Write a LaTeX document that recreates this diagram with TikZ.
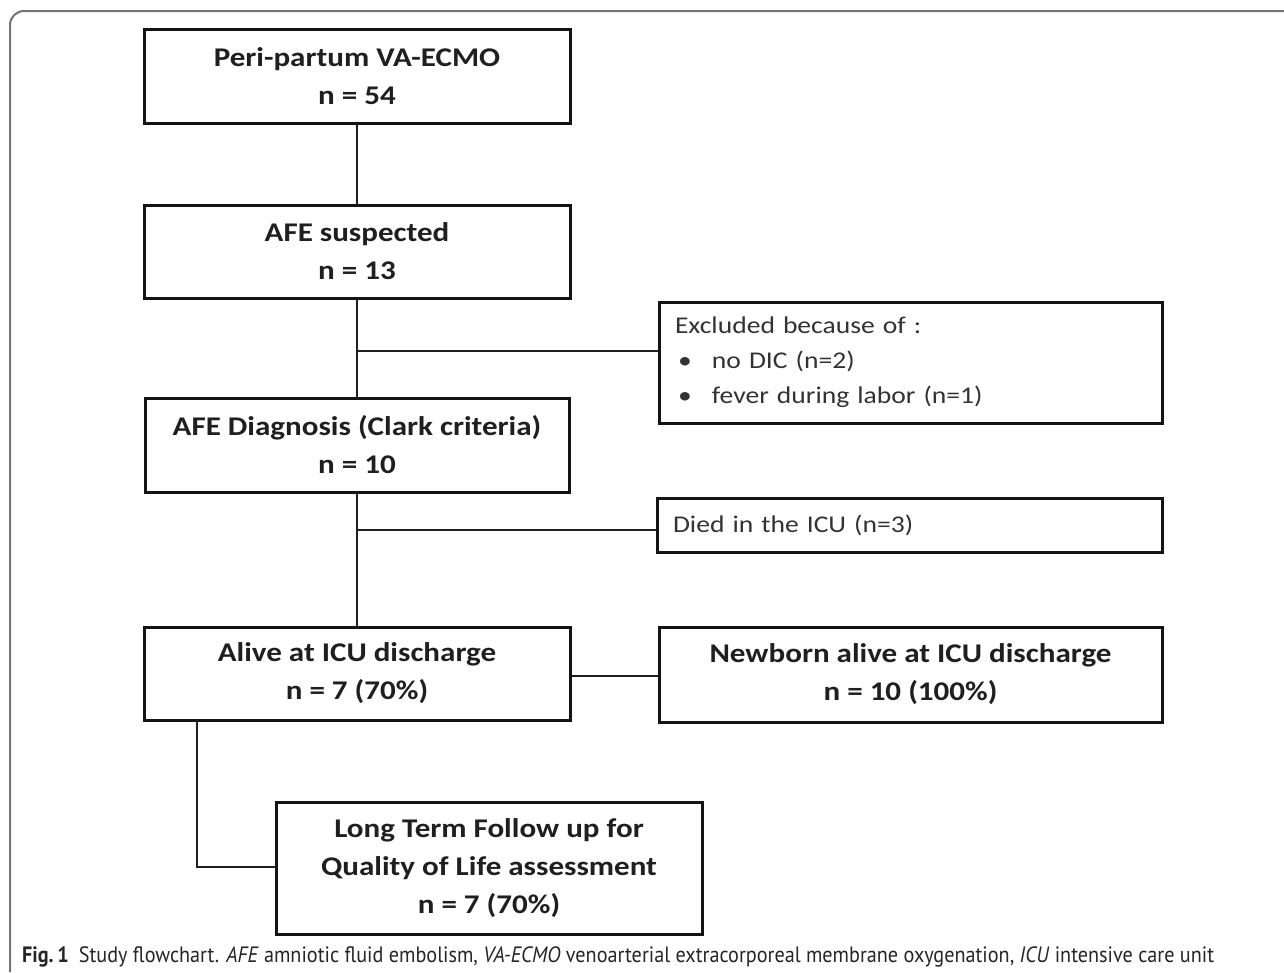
\documentclass[tikz,border=0pt]{standalone}
\usepackage{fontspec}
\setmainfont{Carlito}[FakeStretch=1.15]
\newfontfamily\capfont{PT Sans}[FakeStretch=0.91]
\begin{document}
\begin{tikzpicture}[x=1pt,y=-1pt,
  box/.style={draw=black!92, line width=3pt, rectangle, inner sep=0pt, align=center,
    text=black!88, font=\bfseries\fontsize{27}{38}\selectfont},
  sidebox/.style={draw=black!92, line width=3pt, rectangle, inner sep=0pt, align=left,
    text width=471pt, minimum width=503pt, text=black!80, font=\fontsize{24}{35}\selectfont},
  link/.style={line width=2.5pt, draw=black!88},
  framec/.style={draw=black!55, line width=2pt, rounded corners=14pt}]
\useasboundingbox (0,0) rectangle (1284,972);
\fill[white] (0,0) rectangle (1284,972);
\draw[framec] (1284,11) -- (10,11) -- (10,972);

\node[box, minimum width=426pt, minimum height=94pt] (b1) at (357,76) {Peri-partum VA-ECMO\\n = 54};
\node[box, minimum width=426pt, minimum height=93pt] (b2) at (357,251.5) {AFE suspected\\n = 13};
\node[box, minimum width=424pt, minimum height=94pt] (b3) at (357,445) {AFE Diagnosis (Clark criteria)\\n = 10};
\node[box, minimum width=426pt, minimum height=93pt] (b4) at (357,673.5) {Alive at ICU discharge\\n = 7 (70\%)};
\node[box, minimum width=503pt, minimum height=95pt] (b5) at (910.5,674.5) {Newborn alive at ICU discharge\\n = 10 (100\%)};
\node[box, minimum width=426pt, minimum height=132pt] (b6) at (489,868) {Long Term Follow up for\\Quality of Life assessment\\n = 7 (70\%)};

\node[sidebox, minimum height=121pt] (ex) at (910.5,362.5) {Excluded because of :\\
\makebox[37pt][l]{\hspace{3pt}\textbullet}no DIC (n=2)\\
\makebox[37pt][l]{\hspace{3pt}\textbullet}fever during labor (n=1)};
\node[sidebox, minimum height=54pt, minimum width=505pt, text width=473pt] (died) at (909.5,525.5) {Died in the ICU (n=3)};

\coordinate (j1) at (357,351);
\coordinate (j2) at (357,530);
\coordinate (j3) at (197,867);

\draw[link] (b1.south) -- (b2.north);
\draw[link] (b2.south) -- (b3.north);
\draw[link] (j1) -- (ex.west |- j1);
\draw[link] (b3.south) -- (b4.north);
\draw[link] (j2) -- (died.west |- j2);
\draw[link] (b4.east |- 0,676) -- (b5.west |- 0,676);
\draw[link] (b4.south -| j3) -- (j3) -- (b6.west |- j3);

\node[anchor=west, inner sep=0pt, text=black!85, font=\capfont\fontsize{22.2}{24}\selectfont] (cap) at (22,957)
  {\textbf{Fig.\,1}\hspace{10pt}Study flowchart. \textit{AFE} amniotic fluid embolism, \textit{VA-ECMO} venoarterial extracorporeal membrane oxygenation, \textit{ICU} intensive care unit};
\end{tikzpicture}
\end{document}
